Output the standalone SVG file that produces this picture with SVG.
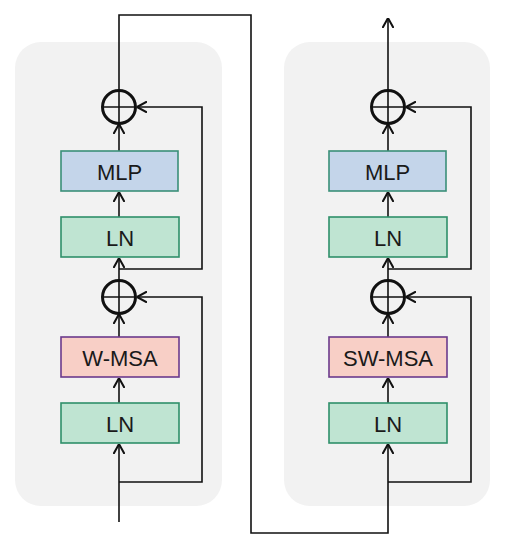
<svg xmlns="http://www.w3.org/2000/svg" width="505" height="550" viewBox="0 0 505 550">
<defs>
<style>
.panel{fill:#f2f2f2;stroke:none}
.ln{fill:#bfe4d2;stroke:#2f8f6a;stroke-width:1.6}
.mlp{fill:#c4d5ea;stroke:#3a8f78;stroke-width:1.6}
.msa{fill:#f8cfc6;stroke:#6b3a8c;stroke-width:1.6}
.lbl{font-family:"Liberation Sans",Arial,sans-serif;font-size:22px;fill:#1a1a1a;text-anchor:middle;dominant-baseline:central}
.add{fill:none;stroke:#111;stroke-width:3}
.wire{fill:none;stroke:#111;stroke-width:1.6}
</style>
<marker id="arr" viewBox="0 0 10 12" refX="10" refY="6" markerWidth="10" markerHeight="12" markerUnits="userSpaceOnUse" orient="auto">
<path d="M0,0.5 L10,6 L0,11.5" fill="none" stroke="#111" stroke-width="2"/>
</marker>
</defs>
<rect class="panel" x="15" y="42" width="207" height="464" rx="26"/>
<rect class="panel" x="284" y="42" width="206" height="464" rx="26"/>
<g id="connectors">
<path class="wire" d="M119,522 L119,444" marker-end="url(#arr)"/>
<path class="wire" d="M119,403 L119,378" marker-end="url(#arr)"/>
<path class="wire" d="M119,337 L119,314" marker-end="url(#arr)"/>
<path class="wire" d="M119,482 L202,482 L202,297 L137,297" marker-end="url(#arr)"/>
<path class="wire" d="M119,280 L119,258" marker-end="url(#arr)"/>
<path class="wire" d="M119,217 L119,192" marker-end="url(#arr)"/>
<path class="wire" d="M119,151 L119,124" marker-end="url(#arr)"/>
<path class="wire" d="M119,269 L202,269 L202,107 L137,107" marker-end="url(#arr)"/>
<path class="wire" d="M119,90 L119,15 L251,15 L251,533 L388,533 L388,444" marker-end="url(#arr)"/>
<path class="wire" d="M388,403 L388,378" marker-end="url(#arr)"/>
<path class="wire" d="M388,337 L388,314" marker-end="url(#arr)"/>
<path class="wire" d="M388,482 L471,482 L471,297 L406,297" marker-end="url(#arr)"/>
<path class="wire" d="M388,280 L388,258" marker-end="url(#arr)"/>
<path class="wire" d="M388,217 L388,192" marker-end="url(#arr)"/>
<path class="wire" d="M388,151 L388,124" marker-end="url(#arr)"/>
<path class="wire" d="M388,269 L471,269 L471,107 L406,107" marker-end="url(#arr)"/>
<path class="wire" d="M388,90 L388,18" marker-end="url(#arr)"/>
</g>
<g id="add1">
<circle class="add" cx="119" cy="107" r="16.5"/>
<path class="wire" d="M102.5,107 H135.5 M119,90.5 V123.5"/>
</g>
<g id="mlp1"><rect class="mlp" x="61" y="151" width="117" height="40"/><text class="lbl" x="119.5" y="172">MLP</text></g>
<g id="ln2"><rect class="ln" x="61" y="217" width="118" height="40"/><text class="lbl" x="120" y="238">LN</text></g>
<g id="add2">
<circle class="add" cx="119" cy="297" r="16.5"/>
<path class="wire" d="M102.5,297 H135.5 M119,280.5 V313.5"/>
</g>
<g id="wmsa"><rect class="msa" x="61" y="337" width="118" height="40"/><text class="lbl" x="120" y="358">W-MSA</text></g>
<g id="ln1"><rect class="ln" x="61" y="403" width="118" height="40"/><text class="lbl" x="120" y="424">LN</text></g>
<g id="add3">
<circle class="add" cx="388" cy="107" r="16.5"/>
<path class="wire" d="M371.5,107 H404.5 M388,90.5 V123.5"/>
</g>
<g id="mlp2"><rect class="mlp" x="329" y="151" width="117" height="40"/><text class="lbl" x="387.5" y="172">MLP</text></g>
<g id="ln4"><rect class="ln" x="329" y="217" width="118" height="40"/><text class="lbl" x="388" y="238">LN</text></g>
<g id="add4">
<circle class="add" cx="388" cy="297" r="16.5"/>
<path class="wire" d="M371.5,297 H404.5 M388,280.5 V313.5"/>
</g>
<g id="swmsa"><rect class="msa" x="329" y="337" width="118" height="40"/><text class="lbl" x="388" y="358">SW-MSA</text></g>
<g id="ln3"><rect class="ln" x="329" y="403" width="118" height="40"/><text class="lbl" x="388" y="424">LN</text></g>
</svg>
